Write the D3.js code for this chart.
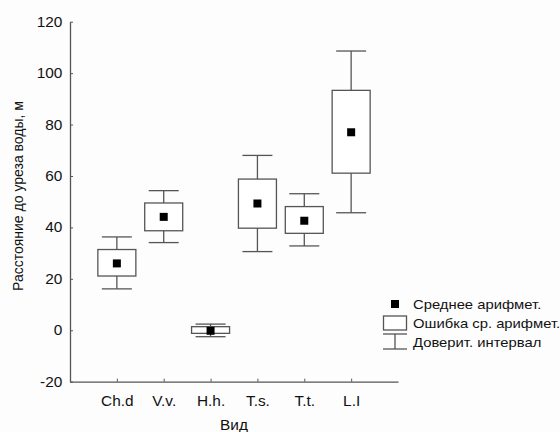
<!DOCTYPE html>
<html>
<head>
<meta charset="utf-8">
<script src="https://cdn.jsdelivr.net/npm/d3@7"></script>
<style>
  body { margin: 0; background: #fdfdfd; }
  text { font-family: "Liberation Sans", Arial, sans-serif; fill: #111; }
</style>
</head>
<body>
<script>
  // species and their stats
  let species = ["Ch.d", "V.v.", "H.h.", "T.s.", "T.t.", "L.I"];
  let means = [26.0, 44.1, -0.2, 49.3, 42.6, 77.0];
  let seLow = [21.1, 38.7, -1.2, 39.7, 37.7, 61.1];
  let seHigh = [31.4, 49.5, 1.4, 58.8, 48.1, 93.3];
  let ciLow = [16.1, 34.1, -2.5, 30.6, 32.8, 45.7];
  let ciHigh = [36.3, 54.3, 2.4, 68.0, 53.1, 108.6];
  let yTicks = [-20, 0, 20, 40, 60, 80, 100, 120];
  let legendLabels = ["Среднее арифмет.", "Ошибка ср. арифмет.", "Доверит. интервал"];

  let width = 560, height = 432;
  let lineColor = "#555";
  let stretch = "scale(1.1,1)"; // the original text looks a bit wide

  let svg = d3.select("body")
    .append("svg")
    .attr("width", width)
    .attr("height", height);

  let xScale = d3.scalePoint()
    .domain(species)
    .range([70, 398])
    .padding(1);

  let yScale = d3.scaleLinear()
    .domain([-20, 120])
    .range([381.7, 21.7]);

  // axes with inward ticks
  let xAxis = svg.append("g")
    .attr("transform", "translate(0," + yScale(-20) + ")")
    .call(d3.axisBottom(xScale).tickSizeInner(-3).tickSizeOuter(0).tickPadding(14));

  let yAxis = svg.append("g")
    .attr("transform", "translate(70,0)")
    .call(d3.axisLeft(yScale)
      .tickValues(yTicks)
      .tickFormat(d => String(d))
      .tickSizeInner(-3).tickSizeOuter(0).tickPadding(7));

  [xAxis, yAxis].forEach(function(ax) {
    ax.select(".domain").attr("stroke", lineColor).attr("stroke-width", 1.3);
    ax.selectAll(".tick line").attr("stroke", lineColor);
    ax.selectAll(".tick text")
      .style("font-family", "Liberation Sans, Arial, sans-serif")
      .style("font-size", "14px")
      .attr("fill", "#111")
      .attr("transform", stretch);
  });

  // axis titles
  svg.append("text")
    .attr("transform", "translate(234,430) " + stretch)
    .attr("text-anchor", "middle")
    .style("font-size", "14px")
    .text("Вид");

  svg.append("text")
    .attr("transform", "translate(23,196) rotate(-90)")
    .attr("text-anchor", "middle")
    .style("font-size", "14px")
    .text("Расстояние до уреза воды, м");

  let data = species.map(function(s, i) {
    return { name: s, mean: means[i], seLow: seLow[i], seHigh: seHigh[i], ciLow: ciLow[i], ciHigh: ciHigh[i] };
  });

  let boxW = 38, capW = 30, dot = 8;

  let groups = svg.selectAll(".item")
    .data(data)
    .enter()
    .append("g")
    .attr("class", "item");

  // whiskers
  groups.append("line")
    .attr("x1", d => xScale(d.name))
    .attr("x2", d => xScale(d.name))
    .attr("y1", d => yScale(d.ciHigh))
    .attr("y2", d => yScale(d.ciLow))
    .attr("stroke", lineColor)
    .attr("stroke-width", 1.3);

  ["ciHigh", "ciLow"].forEach(function(key) {
    groups.append("line")
      .attr("x1", d => xScale(d.name) - capW / 2)
      .attr("x2", d => xScale(d.name) + capW / 2)
      .attr("y1", d => yScale(d[key]))
      .attr("y2", d => yScale(d[key]))
      .attr("stroke", lineColor)
      .attr("stroke-width", 1.3);
  });

  // boxes
  groups.append("rect")
    .attr("x", d => xScale(d.name) - boxW / 2)
    .attr("width", boxW)
    .attr("y", d => yScale(d.seHigh))
    .attr("height", d => yScale(d.seLow) - yScale(d.seHigh))
    .attr("fill", "white")
    .attr("stroke", lineColor)
    .attr("stroke-width", 1.3);

  // means
  groups.append("rect")
    .attr("x", d => xScale(d.name) - dot / 2)
    .attr("y", d => yScale(d.mean) - dot / 2)
    .attr("width", dot)
    .attr("height", dot)
    .attr("fill", "black");

  // legend
  let lx = 395;
  svg.append("rect")
    .attr("x", lx - 4).attr("y", 300)
    .attr("width", 8).attr("height", 8)
    .attr("fill", "black");

  svg.append("rect")
    .attr("x", 383.5).attr("y", 316)
    .attr("width", 23).attr("height", 14)
    .attr("fill", "white")
    .attr("stroke", lineColor)
    .attr("stroke-width", 1.3);

  svg.append("line")
    .attr("x1", 383).attr("x2", 407).attr("y1", 334).attr("y2", 334)
    .attr("stroke", lineColor).attr("stroke-width", 1.3);
  svg.append("line")
    .attr("x1", 383).attr("x2", 407).attr("y1", 349).attr("y2", 349)
    .attr("stroke", lineColor).attr("stroke-width", 1.3);
  svg.append("line")
    .attr("x1", lx).attr("x2", lx).attr("y1", 334).attr("y2", 349)
    .attr("stroke", lineColor).attr("stroke-width", 1.3);

  svg.selectAll(".legend-text")
    .data(legendLabels)
    .enter()
    .append("text")
    .attr("class", "legend-text")
    .attr("transform", (d, i) => "translate(413," + (309 + i * 19) + ") scale(1.14,1)")
    .style("font-size", "13px")
    .text(d => d);
</script>
</body>
</html>
